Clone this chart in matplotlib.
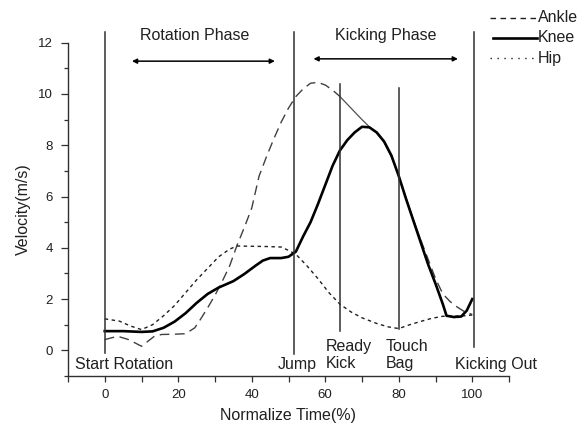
import matplotlib
matplotlib.use("Agg")
import matplotlib.pyplot as plt
from matplotlib.lines import Line2D
import numpy as np

plt.rcParams['font.family'] = ['Liberation Sans', 'DejaVu Sans']

# ---------------- data ----------------
knee_x = [0, 5, 10, 13, 16, 19, 22, 25, 28, 31, 35, 38, 41, 43, 45, 48, 50, 52, 54, 56, 58, 60,
          62, 64, 66, 68, 70, 72, 74, 76, 78, 80, 82, 84, 86, 88, 90, 92, 93, 95, 97, 98.5, 100]
knee_y = [0.75, 0.75, 0.72, 0.74, 0.88, 1.12, 1.45, 1.85, 2.2, 2.45, 2.7, 2.98, 3.3, 3.5, 3.6, 3.6,
          3.65, 3.85, 4.45, 5.0, 5.7, 6.45, 7.2, 7.8, 8.2, 8.5, 8.72, 8.7, 8.5, 8.15, 7.6, 6.8, 5.9,
          5.05, 4.2, 3.35, 2.6, 1.8, 1.35, 1.3, 1.32, 1.55, 2.0]

hip_x = [0, 4, 7, 10, 13, 16, 19, 22, 25, 28, 31, 34, 36, 40, 44, 48, 50, 52, 55, 58, 61, 64, 67,
         70, 74, 77, 80, 83, 86, 89, 92, 95, 98, 100]
hip_y = [1.23, 1.14, 0.95, 0.81, 1.0, 1.35, 1.75, 2.25, 2.75, 3.2, 3.65, 3.95, 4.07, 4.06, 4.05,
         4.03, 3.9, 3.75, 3.3, 2.8, 2.25, 1.8, 1.5, 1.27, 1.05, 0.92, 0.85, 1.0, 1.13, 1.25, 1.33,
         1.33, 1.35, 1.38]

ankle_x = [0, 3.5, 6.5, 10, 13.5, 15.5, 19, 22, 24.5, 26, 28, 30, 32, 34, 36, 38, 40, 42, 44, 46,
           48, 50, 52, 54, 56, 58, 60, 62, 64, 66, 68, 70, 72, 74, 76, 78, 80, 82, 84, 86, 88, 90,
           92, 94, 96, 98, 100]
ankle_y = [0.42, 0.55, 0.42, 0.16, 0.55, 0.62, 0.63, 0.65, 0.88, 1.2, 1.66, 2.15, 2.7, 3.3, 4.1,
           4.8, 5.55, 6.8, 7.55, 8.25, 8.9, 9.45, 9.9, 10.2, 10.42, 10.45, 10.35, 10.15, 9.9, 9.6,
           9.3, 9.0, 8.72, 8.48, 8.12, 7.55, 6.8, 5.95, 5.1, 4.3, 3.55, 2.8, 2.2, 1.9, 1.68, 1.5, 1.4]

events_x = [0, 51.5, 64, 80, 100.5]
events_bottom = [-0.1, -0.15, 0.75, 0.85, 0.13]
events_top = [12.43, 12.4, 10.4, 10.25, 12.4]
event_labels = ["Start Rotation", "Jump", "Ready\nKick", "Touch\nBag", "Kicking Out"]
event_label_x = [-8.2, 47.1, 60.2, 76.4, 95.4]

phases = ["Rotation Phase", "Kicking Phase"]
phase_start = [7.4, 56.8]
phase_end = [46.3, 96.1]
phase_arrow_y = [11.28, 11.37]
phase_text_x = [24.5, 76.5]

# ---------------- figure ----------------
W, H = 587, 430
fig = plt.figure(figsize=(W / 100, H / 100), dpi=100)
ax = fig.add_axes([68 / W, 1 - 376 / H, (509 - 68) / W, (376 - 42.7) / H])

dark = '#202020'
ax.set_xlim(-10, 110)
ax.set_ylim(-1, 12)

# curves
kx, ky = np.array(ankle_x), np.array(ankle_y)
m1 = kx <= 64
m2 = (kx >= 64) & (kx <= 86)
m3 = kx >= 86
ax.plot(kx[m1], ky[m1], color='#404040', lw=1.0, dashes=(7, 4))
ax.plot(kx[m2], ky[m2], color='#505050', lw=0.9)
ax.plot(kx[m3], ky[m3], color='#404040', lw=1.0, dashes=(7, 4))
ax.plot(hip_x, hip_y, color=dark, lw=1.0, dashes=(2.5, 2.5))
ax.plot(knee_x, knee_y, color='black', lw=1.9)

# event lines
for x, b, t in zip(events_x, events_bottom, events_top):
    ax.plot([x, x], [b, t], color='#303030', lw=1.1, clip_on=False)

# event labels
fs = 11.5
for lab, lx in zip(event_labels, event_label_x):
    if "\n" in lab:
        ax.text(lx, -0.18, lab, ha='left', va='center', fontsize=fs, color=dark,
                linespacing=1.2)
    else:
        ax.text(lx, -0.55, lab, ha='left', va='center', fontsize=fs, color=dark)

# phase arrows and labels
for name, s, e, y, tx in zip(phases, phase_start, phase_end, phase_arrow_y, phase_text_x):
    ax.annotate("", xy=(s, y), xytext=(e, y),
                arrowprops=dict(arrowstyle='<|-|>', color='black', lw=1.1,
                                mutation_scale=7, shrinkA=0, shrinkB=0),
                annotation_clip=False)
    ax.text(tx, 12.3, name, ha='center', va='center', fontsize=fs, color=dark, clip_on=False)

# axes styling
for s in ['top', 'right']:
    ax.spines[s].set_visible(False)
for s in ['left', 'bottom']:
    ax.spines[s].set_color('#303030')
    ax.spines[s].set_linewidth(1.0)

ax.set_xticks([0, 20, 40, 60, 80, 100])
ax.set_xticks(np.arange(-10, 111, 10), minor=True)
ax.set_yticks([0, 2, 4, 6, 8, 10, 12])
ax.set_yticks(np.arange(-1, 12, 2), minor=True)
ax.tick_params(axis='both', which='major', direction='out', length=4.5, width=0.9,
               labelsize=9.5, colors='#303030', labelcolor=dark)
ax.tick_params(axis='y', which='major', length=5)
ax.tick_params(axis='both', which='minor', direction='out', length=3, width=0.9, colors='#303030')
ax.tick_params(axis='x', which='minor', length=4.5)
ax.tick_params(axis='x', pad=5)
ax.tick_params(axis='y', pad=6)

ax.set_xlabel("Normalize Time(%)", fontsize=11.5, color=dark, labelpad=5)
ax.set_ylabel("Velocity(m/s)", fontsize=11.5, color=dark, labelpad=5)

# legend (drawn manually in figure pixels)
def fx(px):
    return px / W

def fy(py):
    return 1 - py / H

leg_items = [("Ankle", dict(color=dark, lw=1.0, dashes=(4, 3.2)), 18),
             ("Knee", dict(color='black', lw=1.9), 38),
             ("Hip", dict(color=dark, lw=1.0, dashes=(1, 4)), 58)]
for lab, style, py in leg_items:
    x0 = 490 if lab != "Knee" else 493
    fig.add_artist(Line2D([fx(x0), fx(537)], [fy(py), fy(py)], **style))
    fig.text(fx(538), fy(py), lab, ha='left', va='center', fontsize=11.5, color=dark)

fig.savefig("out.png", dpi=100)
